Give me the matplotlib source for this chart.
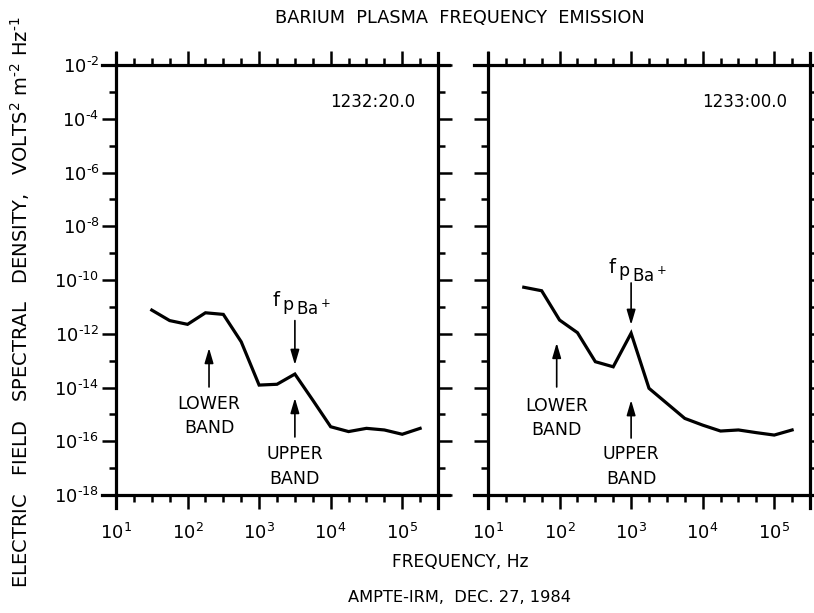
import numpy as np
import matplotlib
matplotlib.use("Agg")
import matplotlib.pyplot as plt
from matplotlib.ticker import FixedLocator, NullFormatter

plt.rcParams['font.family'] = ['DejaVu Sans']
plt.rcParams['mathtext.default'] = 'regular'

# log10 of frequency (Hz) for the spectrum samples
log_freq = [1.5, 1.75, 2.0, 2.25, 2.5, 2.75, 3.0, 3.25, 3.5, 3.75,
            4.0, 4.25, 4.5, 4.75, 5.0, 5.25]

# log10 of spectral density, 1232:20.0
log_psd_1 = [-11.12, -11.51, -11.65, -11.22, -11.28, -12.30, -13.91, -13.88,
             -13.50, -14.47, -15.46, -15.64, -15.52, -15.58, -15.74, -15.52]

# log10 of spectral density, 1233:00.0
log_psd_2 = [-10.27, -10.40, -11.49, -11.96, -13.04, -13.23, -11.98, -14.03,
             -14.59, -15.15, -15.40, -15.62, -15.58, -15.68, -15.77, -15.58]

panel_times = ["1232:20.0", "1233:00.0"]

# annotation positions (log10 units)
fp_x = [3.5, 3.0]
fp_tail = [-11.51, -10.11]
fp_tip = [-13.16, -11.67]
fp_label_x = [3.19, 2.68]
fp_label_y = [-10.97, -9.74]
lower_x = [2.30, 1.96]
lower_tip = [-12.53, -12.34]
lower_tail = [-13.98, -13.98]
lower_label_y = [-15.06, -15.13]
upper_tip = [-14.39, -14.47]
upper_tail = [-15.84, -15.88]
upper_label_y = [-16.94, -16.94]

x_major = [10.0**k for k in range(1, 6)]
x_minor = [10.0**(k + f) for k in range(1, 6) for f in (0.25, 0.5, 0.75)]
y_major = [10.0**k for k in range(-18, -1, 2)]
y_minor = [10.0**k for k in range(-17, -2, 2)]

fig = plt.figure(figsize=(8.14, 6.13), dpi=100)
ax1 = fig.add_axes([116/814, 1-495/613, 322/814, 430/613])
ax2 = fig.add_axes([488/814, 1-495/613, 322/814, 430/613])

arrow_style = dict(arrowstyle='-|>,head_width=0.22,head_length=0.75',
                   color='black', lw=1.2, mutation_scale=12,
                   shrinkA=0, shrinkB=0)

series = [log_psd_1, log_psd_2]
for i, ax in enumerate([ax1, ax2]):
    f = 10.0**np.array(log_freq)
    s = 10.0**np.array(series[i])
    ax.plot(f, s, color='black', lw=2.3, solid_joinstyle='miter')
    ax.set_xscale('log')
    ax.set_yscale('log')
    ax.set_xlim(10, 10**5.5)
    ax.set_ylim(1e-18, 1e-2)

    ax.xaxis.set_major_locator(FixedLocator(x_major))
    ax.xaxis.set_minor_locator(FixedLocator(x_minor))
    ax.yaxis.set_major_locator(FixedLocator(y_major))
    ax.yaxis.set_minor_locator(FixedLocator(y_minor))
    ax.xaxis.set_minor_formatter(NullFormatter())
    ax.yaxis.set_minor_formatter(NullFormatter())
    ax.set_xticklabels(['$10^{%d}$' % k for k in range(1, 6)])
    if i == 0:
        ax.set_yticklabels([r'$10^{\text{-}%d}$' % k for k in range(18, 1, -2)])
    else:
        ax.set_yticklabels([])

    ax.tick_params(which='both', direction='out', top=True, right=True,
                   width=1.8, labelsize=13, color='black')
    ax.tick_params(which='major', length=10)
    ax.tick_params(axis='x', which='major', pad=10)
    ax.tick_params(axis='y', which='major', pad=2)
    ax.tick_params(which='minor', length=5)
    for sp in ax.spines.values():
        sp.set_linewidth(2.3)
    ax.spines['bottom'].set_bounds(10**0.8, 10**5.65)
    ax.spines['top'].set_bounds(10**0.8, 10**5.65)
    ax.spines['left'].set_bounds(10**-18.5, 10**-1.55)
    ax.spines['right'].set_bounds(10**-18.5, 10**-1.55)

    ax.text(0.93, 0.915, panel_times[i], transform=ax.transAxes,
            ha='right', va='center', fontsize=12)

    # f_p Ba+ arrow and label
    xf = 10**fp_x[i]
    ax.annotate('', xy=(xf, 10**fp_tip[i]), xytext=(xf, 10**fp_tail[i]),
                arrowprops=arrow_style)
    lab = (10**fp_label_x[i], 10**fp_label_y[i])
    ax.annotate('f', xy=lab, fontsize=14, ha='left', va='baseline')
    ax.annotate('p', xy=lab, xytext=(7, -2.5), textcoords='offset points',
                fontsize=12.5, ha='left', va='baseline')
    ax.annotate('Ba$^+$', xy=lab, xytext=(17, -6.5),
                textcoords='offset points', fontsize=12, ha='left',
                va='baseline')

    # lower band
    xl = 10**lower_x[i]
    ax.annotate('', xy=(xl, 10**lower_tip[i]), xytext=(xl, 10**lower_tail[i]),
                arrowprops=arrow_style)
    ax.text(xl, 10**lower_label_y[i], 'LOWER\nBAND', fontsize=12.5,
            ha='center', va='center', linespacing=1.45)

    # upper band
    ax.annotate('', xy=(xf, 10**upper_tip[i]), xytext=(xf, 10**upper_tail[i]),
                arrowprops=arrow_style)
    ax.text(xf, 10**upper_label_y[i], 'UPPER\nBAND', fontsize=12.5,
            ha='center', va='center', linespacing=1.45)

fig.text(460/814, 1-18/613, 'BARIUM  PLASMA  FREQUENCY  EMISSION',
         ha='center', va='center', fontsize=12.8)
fig.text(460/814, 1-562/613, 'FREQUENCY, Hz', ha='center', va='center',
         fontsize=12.3)
fig.text(459/814, 1-598/613, 'AMPTE-IRM,  DEC. 27, 1984', ha='center',
         va='center', fontsize=11.7)
fig.text(20/814, 1-302/613,
         'ELECTRIC   FIELD   SPECTRAL   DENSITY,   VOLTS$^2$ m$^{\\text{-}2}$ Hz$^{\\text{-}1}$',
         rotation=90, ha='center', va='center', fontsize=14)

fig.savefig('out.png', dpi=100)
